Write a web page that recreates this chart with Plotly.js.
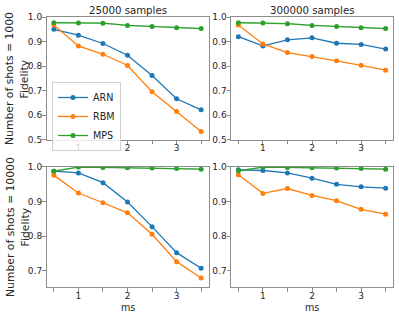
<!DOCTYPE html>
<html>
<head>
<meta charset="utf-8">
<script src="https://cdn.plot.ly/plotly-3.0.1.min.js"></script>
<style>html,body{margin:0;padding:0;background:#fff;}#chart{width:399px;height:319px;}</style>
</head>
<body>
<div id="chart"></div>
<script>
// ---- data ----
const ms = [0.5, 1, 1.5, 2, 2.5, 3, 3.5];
const tickVals = [0.5, 1, 1.5, 2, 2.5, 3, 3.5];
const tickText = ["", "1", "", "2", "", "3", ""];
const seriesNames = ["ARN", "RBM", "MPS"];
const panelTitles = ["25000 samples", "300000 samples"];
const rowTitles = ["Number of shots = 1000", "Number of shots = 10000"];

// shots = 1000, 25000 samples
const arn_1000_25k = [0.951, 0.927, 0.893, 0.845, 0.762, 0.667, 0.622];
const rbm_1000_25k = [0.969, 0.883, 0.849, 0.803, 0.696, 0.615, 0.533];
const mps_1000_25k = [0.978, 0.977, 0.976, 0.967, 0.962, 0.957, 0.954];
// shots = 1000, 300000 samples
const arn_1000_300k = [0.921, 0.883, 0.908, 0.916, 0.894, 0.889, 0.870];
const rbm_1000_300k = [0.969, 0.891, 0.856, 0.840, 0.822, 0.804, 0.784];
const mps_1000_300k = [0.978, 0.977, 0.974, 0.967, 0.962, 0.957, 0.954];
// shots = 10000, 25000 samples
const arn_10000_25k = [0.987, 0.982, 0.954, 0.898, 0.827, 0.752, 0.707];
const rbm_10000_25k = [0.975, 0.924, 0.896, 0.867, 0.805, 0.726, 0.679];
const mps_10000_25k = [0.987, 0.999, 0.998, 0.997, 0.996, 0.995, 0.993];
// shots = 10000, 300000 samples
const arn_10000_300k = [0.991, 0.989, 0.982, 0.967, 0.949, 0.942, 0.938];
const rbm_10000_300k = [0.977, 0.923, 0.937, 0.917, 0.902, 0.877, 0.863];
const mps_10000_300k = [0.988, 0.999, 0.998, 0.997, 0.996, 0.995, 0.993];
// MPS spread (shaded band half-width)
const mps_spread_1000 = [0.004, 0.003, 0.003, 0.003, 0.003, 0.003, 0.003];
const mps_spread_10000 = [0.003, 0.002, 0.002, 0.002, 0.002, 0.002, 0.002];

const colors = ["#1f77b4", "#ff7f0e", "#2ca02c"];
const bandColor = "rgba(44,160,44,0.3)";

const panels = [
  {xa: "x", ya: "y", data: [arn_1000_25k, rbm_1000_25k, mps_1000_25k], spread: mps_spread_1000, legend: true},
  {xa: "x2", ya: "y2", data: [arn_1000_300k, rbm_1000_300k, mps_1000_300k], spread: mps_spread_1000, legend: false},
  {xa: "x3", ya: "y3", data: [arn_10000_25k, rbm_10000_25k, mps_10000_25k], spread: mps_spread_10000, legend: false},
  {xa: "x4", ya: "y4", data: [arn_10000_300k, rbm_10000_300k, mps_10000_300k], spread: mps_spread_10000, legend: false}
];

const traces = [];
panels.forEach(p => {
  const mps = p.data[2];
  const upper = mps.map((v, i) => Math.min(v + p.spread[i], 1.0));
  const lower = mps.map((v, i) => v - p.spread[i]);
  traces.push({x: ms, y: upper, xaxis: p.xa, yaxis: p.ya, mode: "lines", line: {width: 0, color: bandColor}, showlegend: false, hoverinfo: "skip"});
  traces.push({x: ms, y: lower, xaxis: p.xa, yaxis: p.ya, mode: "lines", line: {width: 0, color: bandColor}, fill: "tonexty", fillcolor: bandColor, showlegend: false, hoverinfo: "skip"});
  p.data.forEach((ys, k) => {
    traces.push({
      x: ms, y: ys, xaxis: p.xa, yaxis: p.ya, name: seriesNames[k],
      mode: "lines+markers", line: {color: colors[k], width: 1.3},
      marker: {color: colors[k], size: 5}, showlegend: p.legend
    });
  });
});

const tickFont = {family: "DejaVu Sans", size: 9, color: "#262626"};
const titleFont = {family: "DejaVu Sans", size: 10.2, color: "#262626"};
const ylabFont = {family: "DejaVu Sans", size: 10.8, color: "#262626"};
const xlabFont = {family: "DejaVu Sans", size: 9.6, color: "#262626"};
const spine = "#8c8c8c";
function xax(domain, anchor) {
  return {domain: domain, anchor: anchor, range: [0.35, 3.65], tickvals: tickVals, ticktext: tickText,
    ticks: "outside", ticklen: 3.5, tickwidth: 1, tickcolor: spine, showline: true, linecolor: spine, linewidth: 1,
    mirror: true, showgrid: false, zeroline: false, tickfont: tickFont, fixedrange: true, ticklabelstandoff: -4};
}
function yax(domain, anchor, range, dtick) {
  return {domain: domain, anchor: anchor, range: range, dtick: dtick, tick0: 0, tickformat: ".1f",
    ticks: "outside", ticklen: 3.5, tickwidth: 1, tickcolor: spine, showline: true, linecolor: spine, linewidth: 1,
    mirror: true, showgrid: false, zeroline: false, tickfont: tickFont, fixedrange: true, ticklabelstandoff: -2};
}

const xd1 = [46.5/399, 208.5/399], xd2 = [231/399, 393/399];
const yTop = [(319-139.7)/319, (319-17.3)/319], yBot = [(319-287.3)/319, (319-166.7)/319];

function ann(text, px, py, f, angle) {
  return {text: text, x: px/399, y: (319-py)/319, xref: "paper", yref: "paper", showarrow: false,
    font: f, textangle: angle || 0, xanchor: "center", yanchor: "middle"};
}

const layout = {
  width: 399, height: 319, margin: {l: 0, r: 0, t: 0, b: 0},
  paper_bgcolor: "#fff", plot_bgcolor: "#fff", font: tickFont,
  xaxis: xax(xd1, "y"), yaxis: yax(yTop, "x", [0.5, 1.0], 0.1),
  xaxis2: xax(xd2, "y2"), yaxis2: yax(yTop, "x2", [0.5, 1.0], 0.1),
  xaxis3: xax(xd1, "y3"), yaxis3: yax(yBot, "x3", [0.652, 1.0], 0.1),
  xaxis4: xax(xd2, "y4"), yaxis4: yax(yBot, "x4", [0.652, 1.0], 0.1),
  showlegend: true,
  legend: {x: 52/399, y: (319-82)/319, xanchor: "left", yanchor: "top", bgcolor: "rgba(255,255,255,0.8)",
    bordercolor: "#d0d0d0", borderwidth: 1, font: {family: "DejaVu Sans", size: 9.6, color: "#262626"},
    traceorder: "normal", tracegroupgap: 0, itemwidth: 30},
  annotations: [
    ann(panelTitles[0], 127.5, 10, titleFont),
    ann(panelTitles[1], 312, 10, titleFont),
    ann(rowTitles[0], 10, 79, ylabFont, -90),
    ann("Fidelity", 24.5, 79, ylabFont, -90),
    ann(rowTitles[1], 10, 227, ylabFont, -90),
    ann("Fidelity", 24.5, 227, ylabFont, -90),
    ann("ms", 127.5, 307, xlabFont),
    ann("ms", 312, 307, xlabFont)
  ]
};

Plotly.newPlot("chart", traces, layout, {displayModeBar: false, staticPlot: true});
</script>
</body>
</html>
